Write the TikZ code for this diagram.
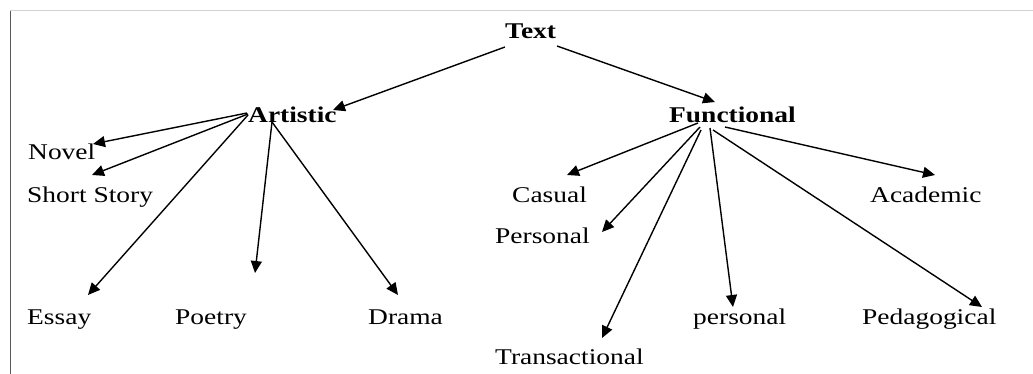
\documentclass[tikz,border=0pt]{standalone}
\usepackage{fontspec}
\setmainfont{Liberation Serif}[FakeStretch=1.22]
\usetikzlibrary{arrows.meta,calc}

\begin{document}
\begin{tikzpicture}[
    x=1pt, y=-1pt,
    every node/.style={font=\fontsize{22.5}{24}\selectfont, inner sep=0pt, anchor=base west},
    head/.style={font=\fontsize{22.5}{24}\selectfont\bfseries},
    branch/.style={draw=black, line width=1.4pt,
        -{Triangle[length=12pt, width=11pt]}},
    frametop/.style={draw=gray!35, line width=1pt},
    frameleft/.style={draw=gray!70!black, line width=1pt}
]
\useasboundingbox (0,0) rectangle (1033,374);
\draw[frametop]  (10,11) -- (1033,11);
\draw[frameleft] (10,11) -- (10,374);
\node[head] (txt) at (505, 39) {Text};
\node[head] (art) at (248,123) {Artistic};
\node[head] (fun) at (669,123) {Functional};
\node (novel)  at ( 28,160) {Novel};
\node (story)  at ( 27,203) {Short Story};
\node (essay)  at ( 27,324) {Essay};
\node (poetry) at (175,324) {Poetry};
\node (drama)  at (368,324) {Drama};
\node (casual) at (512,203) {Casual};
\node (pers)   at (495,243) {Personal};
\node (trans)  at (495,364) {Transactional};
\node (persl)  at (693,324) {personal};
\node (peda)   at (862,324) {Pedagogical};
\node (acad)   at (870,203) {Academic};
\draw[branch] ($(txt.base west)+(0,8)$)   -- ($(art.base west)+(85,-13)$);
\draw[branch] ($(txt.base west)+(52,7)$)  -- ($(fun.base west)+(46,-21)$);
\draw[branch] ($(art.base west)+(-1,-10)$) -- ($(novel.base west)+(65,-16)$);
\draw[branch] ($(art.base west)+(0,-9)$)  -- ($(story.base west)+(65,-28)$);
\draw[branch] ($(art.base west)+(0,-8)$)  -- ($(essay.base west)+(61,-29)$);
\draw[branch] ($(art.base west)+(24,-1)$) -- ($(poetry.base west)+(80,-51)$);
\draw[branch] ($(art.base west)+(24,-1)$) -- ($(drama.base west)+(30,-29)$);
\draw[branch] ($(fun.base west)+(29,0)$)  -- ($(casual.base west)+(55,-28)$);
\draw[branch] ($(fun.base west)+(31,4)$)  -- ($(pers.base west)+(107,-11)$);
\draw[branch] ($(fun.base west)+(32,7)$)  -- ($(trans.base west)+(107,-26)$);
\draw[branch] ($(fun.base west)+(41,5)$)  -- ($(persl.base west)+(40,-17)$);
\draw[branch] ($(fun.base west)+(44,7)$)  -- ($(peda.base west)+(120,-17)$);
\draw[branch] ($(fun.base west)+(56,4)$)  -- ($(acad.base west)+(65,-28)$);
\end{tikzpicture}
\end{document}
